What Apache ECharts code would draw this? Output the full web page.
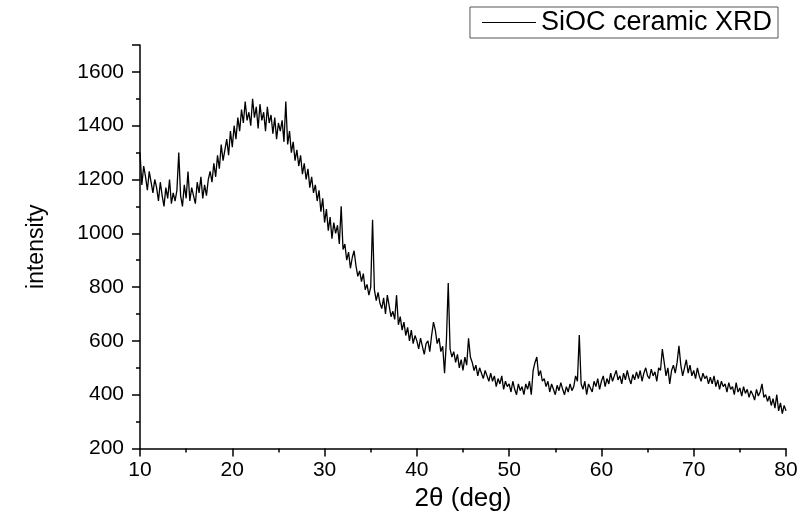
<!DOCTYPE html>
<html>
<head>
<meta charset="utf-8">
<script src="https://cdn.jsdelivr.net/npm/echarts@6/dist/echarts.min.js"></script>
<style>
html,body{margin:0;padding:0;background:#fff;}
#chart{width:810px;height:517px;}
</style>
</head>
<body>
<div id="chart"></div>
<script>
// 2θ sampling grid (deg)
const angleStart = 10;
const angleStep = 0.2;
// Intensity, one value every 0.2° from 10° to 80°
const intensity = [
  1300, 1180, 1250, 1210, 1160, 1230, 1190, 1150, 1200, 1170,
  1120, 1190, 1140, 1100, 1170, 1130, 1200, 1110, 1150, 1120,
  1160, 1300, 1140, 1100, 1180, 1130, 1230, 1120, 1170, 1140,
  1110, 1190, 1150, 1210, 1130, 1180, 1140, 1200, 1230, 1190,
  1260, 1210, 1290, 1240, 1330, 1270, 1310, 1350, 1290, 1380,
  1320, 1400, 1350, 1430, 1380, 1460, 1410, 1490, 1420, 1450,
  1400, 1500, 1430, 1470, 1390, 1480, 1420, 1450, 1380, 1470,
  1410, 1440, 1370, 1430, 1350, 1410, 1380, 1420, 1340, 1490,
  1330, 1380, 1300, 1340, 1270, 1310, 1250, 1290, 1220, 1260,
  1200, 1240, 1170, 1210, 1150, 1180, 1120, 1160, 1080, 1130,
  1040, 1090, 1010, 1060, 980, 1040, 1000, 1030, 960, 1100,
  940, 960, 900, 930, 870, 910, 935, 880, 840, 860,
  820, 850, 790, 810, 770, 800, 1050, 790, 750, 780,
  740, 720, 760, 700, 770, 730, 690, 710, 680, 770,
  660, 690, 640, 670, 620, 650, 600, 640, 590, 620,
  600, 570, 610, 580, 550, 590, 600, 560, 620, 670,
  640, 590, 610, 560, 580, 480, 600, 815, 570, 540,
  560, 520, 550, 500, 530, 490, 540, 510, 610, 540,
  520, 490, 510, 470, 500, 480, 460, 490, 470, 450,
  480, 450, 470, 430, 460, 440, 470, 420, 450, 430,
  440, 410, 450, 420, 400, 440, 415, 430, 400, 440,
  420, 450, 400, 490, 520, 540, 470, 490, 450, 460,
  430, 450, 410, 440, 420, 400, 435, 415, 445, 420,
  400, 430, 410, 440, 415, 430, 470, 450, 622, 440,
  420, 450, 400, 440, 425, 410, 450, 430, 460, 420,
  450, 470, 430, 460, 440, 480, 450, 470, 490, 455,
  470, 440, 480, 455, 490, 460, 440, 475, 455, 485,
  460, 490, 450, 480, 500, 470, 460, 495, 470, 485,
  450, 500, 490, 570, 520, 470, 500, 440, 490, 510,
  480, 520, 582, 510, 470, 500, 530, 480, 510, 470,
  490, 460, 500, 470, 450, 480, 460, 470, 440, 465,
  440, 470, 430, 455, 420, 450, 430, 440, 410, 445,
  420, 430, 400, 445, 410, 425, 395, 430, 405, 420,
  390, 415, 400, 380, 420, 395, 410, 440, 390, 400,
  375, 395, 360, 385, 350, 400, 340, 370, 330, 360,
  340
];
const seriesName = 'SiOC ceramic XRD';
const xTitle = '2θ (deg)';
const yTitle = 'intensity';

const points = intensity.map((v, i) => [+(angleStart + i * angleStep).toFixed(2), v]);
const FONT = "'Liberation Sans', Arial, sans-serif";

const chart = echarts.init(document.getElementById('chart'), null, {renderer: 'canvas'});
chart.setOption({
  animation: false,
  backgroundColor: '#fff',
  grid: {left: 140, right: 24, top: 45, bottom: 68.5, containLabel: false},
  legend: {
    data: [{name: seriesName, icon: 'rect'}],
    right: 32, top: 7,
    padding: [2, 6, 2, 12],
    borderColor: '#555', borderWidth: 1, borderRadius: 0,
    itemWidth: 54, itemHeight: 1.2, itemGap: 6,
    itemStyle: {color: '#000'},
    textStyle: {fontFamily: FONT, fontSize: 27, color: '#000', lineHeight: 26}
  },
  xAxis: {
    type: 'value', min: 10, max: 80, interval: 10,
    name: xTitle, nameLocation: 'middle', nameGap: 34,
    nameTextStyle: {fontFamily: FONT, fontSize: 26, color: '#000'},
    axisLine: {show: true, lineStyle: {color: '#000', width: 1.5}},
    axisTick: {show: true, length: 8, lineStyle: {color: '#000', width: 1.5}},
    minorTick: {show: true, splitNumber: 2, length: 4, lineStyle: {color: '#000', width: 1.5}},
    axisLabel: {fontFamily: FONT, fontSize: 21, color: '#000', margin: 11},
    splitLine: {show: false}
  },
  yAxis: {
    type: 'value', min: 200, max: 1700, interval: 200,
    name: yTitle, nameLocation: 'middle', nameGap: 92, nameRotate: 90,
    nameTextStyle: {fontFamily: FONT, fontSize: 23, color: '#000'},
    axisLine: {show: true, lineStyle: {color: '#000', width: 1.5}},
    axisTick: {show: true, length: 8, lineStyle: {color: '#000', width: 1.5}},
    minorTick: {show: true, splitNumber: 2, length: 4, lineStyle: {color: '#000', width: 1.5}},
    axisLabel: {fontFamily: FONT, fontSize: 21, color: '#000', margin: 16,
      formatter: v => (v === 1700 ? '' : String(v))},
    splitLine: {show: false}
  },
  series: [{
    name: seriesName, type: 'line', data: points,
    symbol: 'none', showSymbol: false,
    lineStyle: {color: '#000', width: 1.3},
    itemStyle: {color: '#000'}
  }]
});
</script>
</body>
</html>
